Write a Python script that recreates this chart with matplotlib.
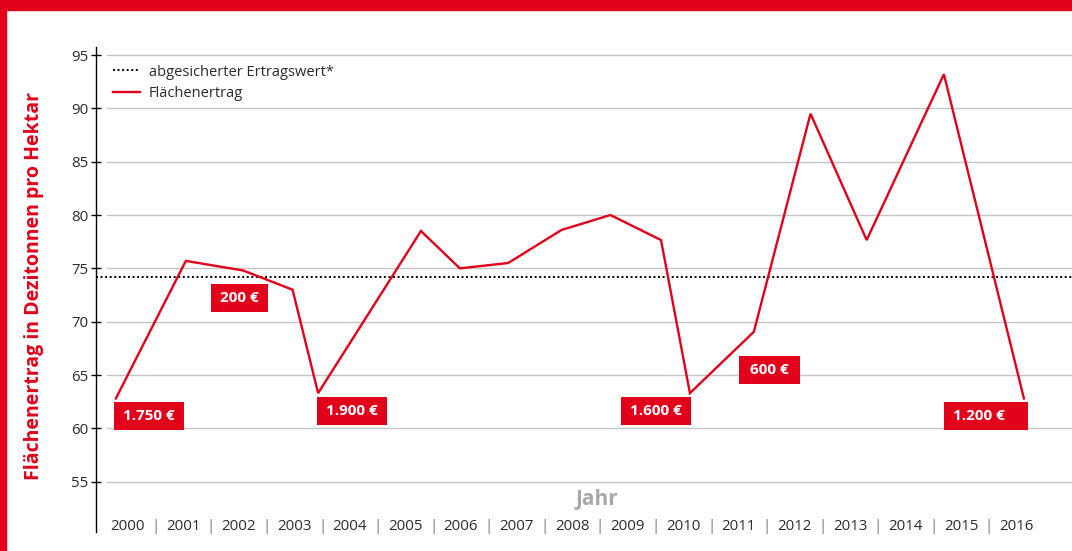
import matplotlib
matplotlib.use("Agg")
import matplotlib.pyplot as plt
from matplotlib.patches import Rectangle
from matplotlib.transforms import blended_transform_factory

# ---- data ----
years = list(range(2000, 2017))
year_labels = [str(y) for y in years]
# x positions (in year units) and yields (dt/ha) of the drawn line
ertrag_x = [1999.79, 2001.05, 2002.08, 2002.97, 2003.43, 2005.28, 2005.98, 2006.85,
            2007.81, 2008.69, 2009.60, 2010.12, 2011.27, 2012.29, 2013.30, 2014.69, 2016.13]
ertrag_y = [62.8, 75.7, 74.8, 73.0, 63.3, 78.5, 75.0, 75.5,
            78.6, 80.0, 77.65, 63.3, 69.05, 89.5, 77.65, 93.2, 62.8]
ertragswert = 74.2
yticks = [55, 60, 65, 70, 75, 80, 85, 90, 95]
box_labels = ["1.750 €", "200 €", "1.900 €", "1.600 €", "600 €", "1.200 €"]
box_x = [2000.387, 2002.012, 2004.04, 2009.51, 2011.55, 2015.45]
box_y = [61.15, 72.23, 61.62, 61.62, 65.47, 61.15]
box_w_px = [70, 57, 70, 70, 61, 84]

RED = "#e2001a"
TXT = "#2a2a2a"
plt.rcParams['font.family'] = ['Open Sans', 'DejaVu Sans']

W, H = 1072, 551
fig = plt.figure(figsize=(W / 100, H / 100), dpi=100)
fig.patch.set_facecolor("white")

# red frame
fig.patches.append(Rectangle((0, 1 - 9.5 / H), 1, 9.5 / H, transform=fig.transFigure,
                             color=RED, zorder=0))
fig.patches.append(Rectangle((0, 0), 6 / W, 1, transform=fig.transFigure,
                             color=RED, zorder=0))

ax_l, ax_r, ax_t, ax_b = 96, 1072, 46.7, 531.7
ax = fig.add_axes([ax_l / W, 1 - ax_b / H, (ax_r - ax_l) / W, (ax_b - ax_t) / H])
ax.set_facecolor("none")

xmin = 2000 - (127.5 - ax_l) / 55.575
xmax = 2000 + (ax_r - 127.5) / 55.575
ax.set_xlim(xmin, xmax)
ax.set_ylim(50.31, 95.78)

for s in ["top", "right", "bottom"]:
    ax.spines[s].set_visible(False)
ax.spines["left"].set_color("black")
ax.spines["left"].set_linewidth(1.0)

# gridlines starting a bit right of axis
grid_start = (107 - ax_l) / (ax_r - ax_l)
for v in yticks:
    ax.axhline(v, xmin=grid_start, xmax=1, color="#c4c4c4", lw=1.0, zorder=1)

ax.set_yticks(yticks)
ax.set_yticklabels([str(v) for v in yticks])
ax.tick_params(axis="y", direction="inout", length=7, width=1.0, colors="black",
               labelcolor=TXT, labelsize=10.8, pad=2)
ax.set_xticks([])

# dotted line
ax.axhline(ertragswert, color="black", lw=1.4, linestyle=(0, (1, 1.35)), zorder=2,
           label="abgesicherter Ertragswert*")
# main line
ax.plot(ertrag_x, ertrag_y, color=RED, lw=1.7, zorder=3, label="Flächenertrag",
        solid_joinstyle="miter")

# red label boxes
px_x = 55.575
px_y = 53.333 / 5
for lab, bx, by, bw in zip(box_labels, box_x, box_y, box_w_px):
    wd = bw / px_x
    ht = 28 / px_y
    ax.add_patch(Rectangle((bx - wd / 2, by - ht / 2), wd, ht, color=RED, zorder=4, lw=0))
    if bw > 75:
        ax.text(bx - wd / 2 + 8.5 / px_x, by, lab, color="white", fontsize=11,
                fontweight="bold", ha="left", va="center", zorder=5)
    else:
        ax.text(bx, by, lab, color="white", fontsize=11, fontweight="bold",
                ha="center", va="center", zorder=5)

# x labels with separators
trans = blended_transform_factory(ax.transData, ax.transAxes)
for y, lab in zip(years, year_labels):
    ax.text(y, 0.004, lab, transform=trans, ha="center", va="baseline",
            fontsize=10.8, color=TXT)
for y in years[:-1]:
    ax.text(y + 0.5, 0.004, "|", transform=trans, ha="center", va="baseline",
            fontsize=10.8, color="#777777")

fig.text(596.7 / W, 1 - 499 / H, "Jahr", ha="center", va="center", fontsize=15,
         fontweight="bold", color="#a8a8a8")
fig.text(34 / W, 1 - 286 / H, "Flächenertrag in Dezitonnen pro Hektar", rotation=90,
         ha="center", va="center", fontsize=14, fontweight="bold", color=RED)

leg = ax.legend(loc="upper left", bbox_to_anchor=(113 / W, 1 - 64.5 / H),
                bbox_transform=fig.transFigure, frameon=False, fontsize=10.5,
                handlelength=1.85, handletextpad=0.6, borderpad=0, borderaxespad=0,
                labelspacing=0.45)
for t in leg.get_texts():
    t.set_color(TXT)

fig.savefig("out.png", dpi=100)
